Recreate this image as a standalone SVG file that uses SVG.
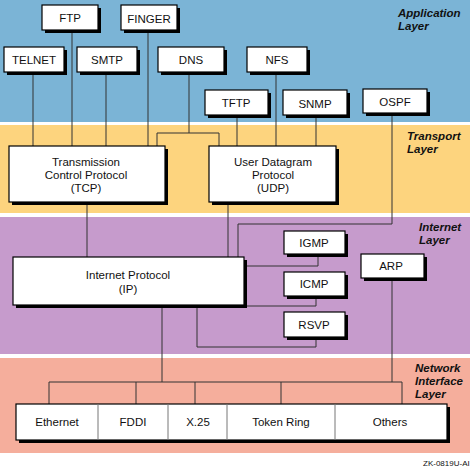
<svg xmlns="http://www.w3.org/2000/svg" width="470" height="468" viewBox="0 0 470 468">
<style>
.sh{fill:#000}
.bx{fill:#fff;stroke:#000;stroke-width:1.2}
.t{font-family:"Liberation Sans",Arial,sans-serif;font-size:11.5px;fill:#111;text-anchor:middle}
.lay{font-family:"Liberation Sans",Arial,sans-serif;font-size:11.5px;font-weight:bold;font-style:italic;fill:#111}
.c{fill:none;stroke:#333;stroke-width:1}
.dv{stroke:#777;stroke-width:1}
</style>
<rect x="0" y="0" width="470" height="468" fill="#fff"/>
<rect x="0" y="0" width="470" height="122" fill="#7bb4d6"/>
<rect x="0" y="125" width="470" height="88" fill="#fdd47e"/>
<rect x="0" y="217" width="470" height="137" fill="#c69bcc"/>
<rect x="0" y="358" width="470" height="95" fill="#f5ae9c"/>
<g id="layer-labels">
<text class="lay" x="398" y="17">Application</text>
<text class="lay" x="398" y="30">Layer</text>
<text class="lay" x="407" y="140">Transport</text>
<text class="lay" x="407" y="153">Layer</text>
<text class="lay" x="419" y="231">Internet</text>
<text class="lay" x="419" y="244">Layer</text>
<text class="lay" x="415" y="372">Network</text>
<text class="lay" x="415" y="385">Interface</text>
<text class="lay" x="415" y="398">Layer</text>
</g>
<g id="connectors">
<path class="c" d="M33,72V146M72,30V146M106,72V146M148,30V146M189,72V133M157,146V133H219V146M237,115V146M276,72V146M316,115V146"/>
<path class="c" d="M392,113V224H238V257M87,202V257M228,202V257"/>
<path class="c" d="M318,254V266H244M316,296V306H247M197,305V347H316V337"/>
<path class="c" d="M162,305V382M392,278V382M49,382H402M49,382V404M136,382V404M195,382V404M281,382V404M402,382V404"/>
</g>
<g id="ftp"><rect class="sh" x="45" y="8" width="56" height="25"/><rect class="bx" x="42" y="5" width="56" height="25"/><text class="t" x="70" y="22">FTP</text></g>
<g id="finger"><rect class="sh" x="124" y="8" width="56" height="25"/><rect class="bx" x="121" y="5" width="56" height="25"/><text class="t" x="149" y="23">FINGER</text></g>
<g id="telnet"><rect class="sh" x="7" y="50" width="60" height="25"/><rect class="bx" x="4" y="47" width="60" height="25"/><text class="t" x="34" y="64">TELNET</text></g>
<g id="smtp"><rect class="sh" x="80" y="50" width="60" height="25"/><rect class="bx" x="77" y="47" width="60" height="25"/><text class="t" x="107" y="64">SMTP</text></g>
<g id="dns"><rect class="sh" x="161" y="50" width="66" height="25"/><rect class="bx" x="158" y="47" width="66" height="25"/><text class="t" x="191" y="64">DNS</text></g>
<g id="nfs"><rect class="sh" x="250" y="50" width="60" height="25"/><rect class="bx" x="247" y="47" width="60" height="25"/><text class="t" x="277" y="64">NFS</text></g>
<g id="tftp"><rect class="sh" x="208" y="93" width="63" height="25"/><rect class="bx" x="205" y="90" width="63" height="25"/><text class="t" x="236" y="107">TFTP</text></g>
<g id="snmp"><rect class="sh" x="286" y="93" width="64" height="25"/><rect class="bx" x="283" y="90" width="64" height="25"/><text class="t" x="315" y="108">SNMP</text></g>
<g id="ospf"><rect class="sh" x="366" y="92" width="64" height="24"/><rect class="bx" x="363" y="89" width="64" height="24"/><text class="t" x="395" y="106">OSPF</text></g>
<g id="tcp"><rect class="sh" x="12" y="149" width="156" height="56"/><rect class="bx" x="9" y="146" width="156" height="56"/><text class="t" x="86" y="166">Transmission</text><text class="t" x="86" y="179">Control Protocol</text><text class="t" x="86" y="192">(TCP)</text></g>
<g id="udp"><rect class="sh" x="212" y="149" width="127" height="56"/><rect class="bx" x="209" y="146" width="127" height="56"/><text class="t" x="273" y="166">User Datagram</text><text class="t" x="273" y="179">Protocol</text><text class="t" x="273" y="192">(UDP)</text></g>
<g id="ip"><rect class="sh" x="16" y="260" width="231" height="48"/><rect class="bx" x="13" y="257" width="231" height="48"/><text class="t" x="128" y="279">Internet Protocol</text><text class="t" x="128" y="293">(IP)</text></g>
<g id="igmp"><rect class="sh" x="287" y="234" width="61" height="23"/><rect class="bx" x="284" y="231" width="61" height="23"/><text class="t" x="314" y="247">IGMP</text></g>
<g id="icmp"><rect class="sh" x="287" y="275" width="61" height="24"/><rect class="bx" x="284" y="272" width="61" height="24"/><text class="t" x="314" y="288">ICMP</text></g>
<g id="rsvp"><rect class="sh" x="287" y="315" width="61" height="25"/><rect class="bx" x="284" y="312" width="61" height="25"/><text class="t" x="314" y="329">RSVP</text></g>
<g id="arp"><rect class="sh" x="364" y="257" width="63" height="24"/><rect class="bx" x="361" y="254" width="63" height="24"/><text class="t" x="391" y="270">ARP</text></g>
<g id="network">
<rect class="sh" x="19" y="407" width="431" height="36"/><rect class="bx" x="16" y="404" width="431" height="36"/>
<path class="dv" d="M98,404V440M168,404V440M227,404V440M335,404V440"/>
<text class="t" x="57" y="426">Ethernet</text>
<text class="t" x="133" y="426">FDDI</text>
<text class="t" x="198" y="426">X.25</text>
<text class="t" x="281" y="426">Token Ring</text>
<text class="t" x="390" y="426">Others</text>
</g>
<text x="423" y="466" font-family="'Liberation Sans',Arial,sans-serif" font-size="8px" fill="#111">ZK-0819U-AI</text>
</svg>
